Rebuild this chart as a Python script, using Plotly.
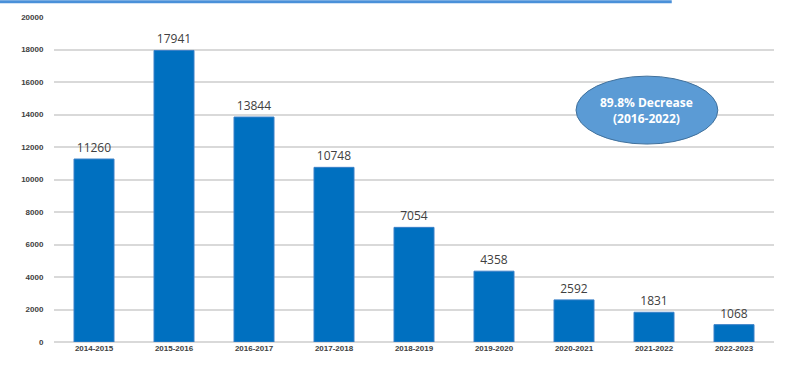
import plotly.graph_objects as go

years = ["2014-2015", "2015-2016", "2016-2017", "2017-2018", "2018-2019",
         "2019-2020", "2020-2021", "2021-2022", "2022-2023"]
counts = [11260, 17941, 13844, 10748, 7054, 4358, 2592, 1831, 1068]
y_ticks = list(range(0, 20001, 2000))

fig = go.Figure(go.Bar(
    x=years, y=counts, text=[str(v) for v in counts], textposition="outside",
    textfont=dict(family="Open Sans", size=12, color="#404040"),
    marker=dict(color="#0070C0", line=dict(color="#3a80c8", width=1)),
    cliponaxis=False,
))

fig.update_layout(
    width=799, height=375,
    margin=dict(l=54, r=25, t=17, b=33),
    plot_bgcolor="white", paper_bgcolor="white",
    bargap=0.5, showlegend=False,
    xaxis=dict(showgrid=False, tickvals=years, ticktext=["<b>%s</b>" % y for y in years],
               tickfont=dict(family="Liberation Sans", size=8, color="#404040"),
               ticks="", showline=False),
    yaxis=dict(range=[0, 20000], tickvals=y_ticks, ticktext=["<b>%d</b>" % v for v in y_ticks],
               gridcolor="#d9d9d9", gridwidth=1.5, zeroline=True, zerolinecolor="#d9d9d9",
               zerolinewidth=1.5, tickfont=dict(family="Liberation Sans", size=8, color="#404040"),
               ticklen=8, ticks="outside", tickcolor="white"),
    shapes=[
        dict(type="line", xref="paper", yref="paper", x0=-0.075, x1=0.858, y0=1.047, y1=1.047,
             line=dict(color="#4a90d9", width=3)),
        dict(type="circle", xref="paper", yref="paper", x0=0.725, x1=0.922, y0=0.609, y1=0.818,
             fillcolor="#5b9bd5", line=dict(color="#41719c", width=1)),
    ],
    annotations=[
        dict(xref="paper", yref="paper", x=0.8235, y=0.7135, showarrow=False,
             xanchor="center", yanchor="middle",
             text="<b>89.8% Decrease<br>(2016-2022)</b>",
             font=dict(family="Open Sans", size=12, color="white")),
    ],
)

fig.write_html("out.html")
